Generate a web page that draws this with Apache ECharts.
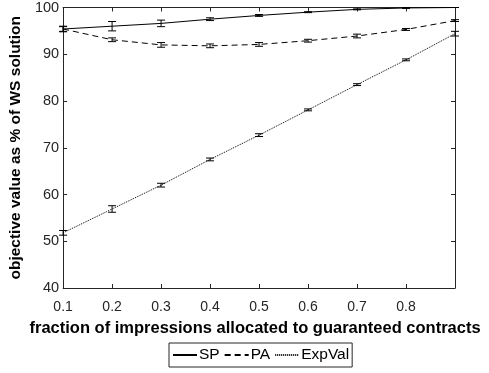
<!DOCTYPE html>
<html>
<head>
<meta charset="utf-8">
<script src="https://cdn.jsdelivr.net/npm/echarts@6/dist/echarts.min.js"></script>
<style>
  html, body { margin: 0; padding: 0; background: #fff; }
  #chart { width: 489px; height: 373px; }
</style>
</head>
<body>
<div id="chart"></div>
<script>
// fraction of impressions allocated to guaranteed contracts
const fractions = [0.1, 0.2, 0.3, 0.4, 0.5, 0.6, 0.7, 0.8, 0.9];

const spMean = [95.4, 96.0, 96.6, 97.5, 98.3, 99.0, 99.6, 99.9, 100.0];
const spErr = [0.6, 1.0, 0.7, 0.3, 0.2, 0.1, 0.1, 0.1, 0.0];

const paMean = [95.4, 93.1, 92.0, 91.8, 92.1, 92.9, 93.9, 95.3, 97.2];
const paErr = [0.5, 0.4, 0.5, 0.4, 0.4, 0.3, 0.4, 0.2, 0.2];

const expMean = [51.8, 56.9, 62.0, 67.5, 72.7, 78.1, 83.5, 88.8, 94.4];
const expErr = [0.5, 0.7, 0.4, 0.3, 0.3, 0.2, 0.2, 0.2, 0.5];

const xTickLabels = ['0.1', '0.2', '0.3', '0.4', '0.5', '0.6', '0.7', '0.8'];

const axisColor = '#262626';
const fontFamily = '"Liberation Sans", Arial, sans-serif';

function pairs(means) {
    return fractions.map((x, i) => [x, means[i]]);
}

function errRows(means, errs) {
    return fractions.map((x, i) => [x, means[i] - errs[i], means[i] + errs[i]]);
}

function errorBars(name, means, errs) {
    return {
        name: name + '-err',
        type: 'custom',
        data: errRows(means, errs),
        z: 3,
        renderItem: function (params, api) {
            const x = api.value(0);
            const lo = api.coord([x, api.value(1)]);
            const hi = api.coord([x, api.value(2)]);
            const cap = 4;
            const st = { stroke: '#000', lineWidth: 1 };
            return {
                type: 'group',
                children: [
                    { type: 'line', shape: { x1: lo[0], y1: lo[1], x2: hi[0], y2: hi[1] }, style: st },
                    { type: 'line', shape: { x1: lo[0] - cap, y1: lo[1], x2: lo[0] + cap, y2: lo[1] }, style: st },
                    { type: 'line', shape: { x1: hi[0] - cap, y1: hi[1], x2: hi[0] + cap, y2: hi[1] }, style: st }
                ]
            };
        }
    };
}

function lineSeries(name, means, type, width) {
    return {
        name: name,
        type: 'line',
        data: pairs(means),
        symbol: 'none',
        z: 2,
        itemStyle: { color: '#000' },
        lineStyle: { color: '#000', width: width, type: type }
    };
}

const chart = echarts.init(document.getElementById('chart'));

chart.setOption({
    animation: false,
    grid: { left: 61, right: 34, top: 7, bottom: 85 },
    legend: {
        data: ['SP', 'PA', 'ExpVal'],
        top: 343,
        left: 169,
        itemWidth: 24,
        itemHeight: 10,
        itemGap: 4,
        padding: [4, 3, 4, 3],
        borderColor: axisColor,
        borderWidth: 1,
        borderRadius: 0,
        itemStyle: { opacity: 0 },
        textStyle: { color: '#000', fontSize: 15.5, fontFamily: fontFamily, padding: [0, 0, 0, -3] }
    },
    xAxis: [{
        type: 'value',
        min: 0.1,
        max: 0.9,
        interval: 0.1,
        name: 'fraction of impressions allocated to guaranteed contracts',
        nameLocation: 'middle',
        nameGap: 32,
        nameTextStyle: { color: '#000', fontSize: 16.5, fontWeight: 'bold', fontFamily: fontFamily, padding: [0, 8, 0, 0] },
        axisLine: { lineStyle: { color: axisColor } },
        axisTick: { inside: true, length: 4, lineStyle: { color: axisColor } },
        axisLabel: {
            color: axisColor, fontSize: 14, fontFamily: fontFamily, margin: 12,
            formatter: function (v) {
                const s = v.toFixed(1);
                return xTickLabels.indexOf(s) >= 0 ? s : '';
            }
        },
        splitLine: { show: false }
    }, {
        type: 'value',
        position: 'top',
        min: 0.1,
        max: 0.9,
        interval: 0.1,
        axisLine: { show: true, lineStyle: { color: axisColor } },
        axisTick: { inside: true, length: 4, lineStyle: { color: axisColor } },
        axisLabel: { show: false },
        splitLine: { show: false }
    }],
    yAxis: [{
        type: 'value',
        min: 40,
        max: 100,
        interval: 10,
        name: 'objective value as % of WS solution',
        nameLocation: 'middle',
        nameGap: 37,
        nameTextStyle: { color: '#000', fontSize: 15.5, fontWeight: 'bold', fontFamily: fontFamily },
        axisLine: { show: true, lineStyle: { color: axisColor } },
        axisTick: { show: true, inside: true, length: 4, lineStyle: { color: axisColor } },
        axisLabel: { color: axisColor, fontSize: 14.5, fontFamily: fontFamily, margin: 4 },
        splitLine: { show: false }
    }, {
        type: 'value',
        position: 'right',
        min: 40,
        max: 100,
        interval: 10,
        axisLine: { show: true, lineStyle: { color: axisColor } },
        axisTick: { show: true, inside: true, length: 4, lineStyle: { color: axisColor } },
        axisLabel: { show: false },
        splitLine: { show: false }
    }],
    series: [
        lineSeries('SP', spMean, 'solid', 1),
        lineSeries('PA', paMean, [6, 4], 1),
        lineSeries('ExpVal', expMean, [1, 1], 1),
        errorBars('SP', spMean, spErr),
        errorBars('PA', paMean, paErr),
        errorBars('ExpVal', expMean, expErr)
    ]
});
</script>
</body>
</html>
